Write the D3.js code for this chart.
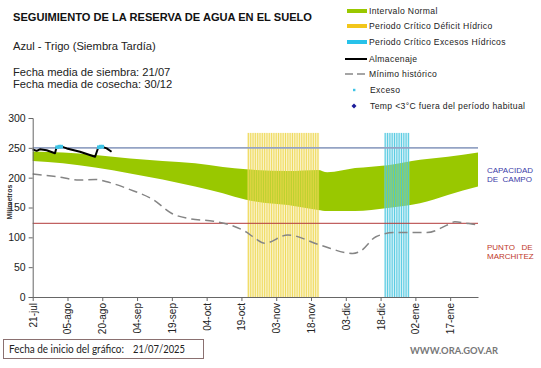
<!DOCTYPE html>
<html><head><meta charset="utf-8">
<script src="https://cdn.jsdelivr.net/npm/d3@7"></script>
<style>
body{margin:0;background:#fff;}
svg{display:block;font-family:"Liberation Sans",Arial,sans-serif;}
</style></head>
<body><svg id="c" width="541" height="368"></svg>
<script>
// ---- data (day offsets from 21-jul-2025) ----
const tickDays = [0,15,30,45,60,75,90,105,120,135,150,165,180];
const tickLabels = ["21-jul","05-ago","20-ago","04-sep","19-sep","04-oct","19-oct","03-nov","18-nov","03-dic","18-dic","02-ene","17-ene"];
const yTicks = [0,50,100,150,200,250,300];

const normDays = [0,13,27,42,56,70,82,92,96,110,123,127,139,153,167,179,192];
const normHigh = [244,242,238,232,228,224,218,214,213,211,213,209,216,221,230,235,242];
const normLow  = [228,224,217,207,197,185,174,163,160,154,146,144,144,149,157,171,185];

const minDays = [0,10,20,27,32,42,52,60,68,78,85,92,96,100,110,124,138,141,148,156,170,179,182,188,192];
const minVals = [206,202,196,197,193,180,163,140,131,127,121,109,98,90,104,87,73,76,101,108,108,121,126,123,121];

const almDays = [0,1.7,3.1,6,9.6,10.3,12.5,14.7,20.4,26.9,28.3,29.7,31.9,34];
const almVals = [247.5,245,247.5,246,241,251,252,249,243.5,235,251,252,249,243.5];

const excesoDays = [10.5,11.5,12.3,28.5,29.3,30];
const excesoVals = [251,252,252,251,252,252];

const deficitDays = d3.range(93,124);   // Periodo crítico déficit hídrico (daily bars)
const excesosDays = d3.range(152,163);  // Periodo crítico excesos hídricos
const periodTop = 275;

const capCampo = 250;
const puntoMarch = 123.5;
const xEnd = 192;

// ---- layout ----
const svg = d3.select("#c");
const x = d3.scaleLinear().domain([0,xEnd]).range([32.7,478]);
const y = d3.scaleLinear().domain([0,300]).range([297,118]);

// green band
svg.append("path")
  .datum(normDays.map((d,i)=>({d,lo:normLow[i],hi:normHigh[i]})))
  .attr("fill","#99c800")
  .attr("d", d3.area().curve(d3.curveMonotoneX).x(p=>x(p.d)).y0(p=>y(p.lo)).y1(p=>y(p.hi)));

// period bars
function period(days, bg, line){
  const g = svg.append("g");
  days.forEach(d=>{
    g.append("rect").attr("x",x(d-0.5)).attr("width",x(1)-x(0)).attr("y",y(periodTop))
      .attr("height",y(0)-y(periodTop)).attr("fill",bg).attr("opacity",0.45);
    g.append("rect").attr("x",x(d)-0.5).attr("width",1).attr("y",y(periodTop))
      .attr("height",y(0)-y(periodTop)).attr("fill",line).attr("opacity",0.8);
  });
}
period(deficitDays,"#f3e27a","#ecd545");
period(excesosDays,"#8fdcec","#3fc3dd");

// reference lines
svg.append("line").attr("x1",x(0)).attr("x2",x(xEnd)).attr("y1",y(capCampo)).attr("y2",y(capCampo))
  .attr("stroke","#94a3c4").attr("stroke-width",1.6);
svg.append("line").attr("x1",x(0)).attr("x2",x(xEnd)).attr("y1",y(puntoMarch)).attr("y2",y(puntoMarch))
  .attr("stroke","#b23a3a").attr("stroke-width",1);

// minimum dashed
svg.append("path").datum(minDays.map((d,i)=>[d,minVals[i]]))
  .attr("fill","none").attr("stroke","#858585").attr("stroke-width",1.5).attr("stroke-dasharray","9,5")
  .attr("d", d3.line().curve(d3.curveMonotoneX).x(p=>x(p[0])).y(p=>y(p[1])));

// almacenaje
svg.append("path").datum(almDays.map((d,i)=>[d,almVals[i]]))
  .attr("fill","none").attr("stroke","#000").attr("stroke-width",2).attr("stroke-linejoin","round")
  .attr("d", d3.line().x(p=>x(p[0])).y(p=>y(p[1])));

// exceso points
svg.append("g").selectAll("rect").data(excesoDays.map((d,i)=>[d,excesoVals[i]])).join("rect")
  .attr("x",p=>x(p[0])-1.8).attr("y",p=>y(p[1])-1.8).attr("width",3.6).attr("height",3.6).attr("fill","#3ec4e6");

// axes
const yAxis = svg.append("g").attr("transform",`translate(${x(0)},0)`)
  .call(d3.axisLeft(y).tickValues(yTicks).tickSize(4).tickPadding(3));
yAxis.select(".domain").attr("stroke","#666");
yAxis.selectAll(".tick line").attr("stroke","#666");
yAxis.selectAll("text").attr("font-size",10.5).attr("fill","#222").attr("font-family","Liberation Sans,Arial,sans-serif");

const xAxis = svg.append("g").attr("transform",`translate(0,${y(0)})`)
  .call(d3.axisBottom(x).tickValues(tickDays).tickFormat((d,i)=>tickLabels[i]).tickSize(4).tickSizeOuter(0));
xAxis.select(".domain").attr("stroke","#666");
xAxis.selectAll(".tick line").attr("stroke","#666");
xAxis.selectAll("text").attr("font-size",10).attr("fill","#222").attr("font-family","Liberation Sans,Arial,sans-serif")
  .attr("transform","rotate(-90)").attr("text-anchor","end").attr("x",-6).attr("y",0).attr("dy","0.35em");

svg.append("text").attr("transform","translate(12,202) rotate(-90)").attr("text-anchor","middle")
  .attr("font-size",7).attr("font-weight","bold").attr("fill","#333").text("Milímetros");

// right labels
const rl = [["CAPACIDAD",173,"#3c3ca8"],["DE  CAMPO",182,"#3c3ca8"],["PUNTO   DE",249.5,"#c0392b"],["MARCHITEZ",258.5,"#c0392b"]];
rl.forEach(r=>svg.append("text").attr("x",487).attr("y",r[1]).attr("font-size",8).attr("fill",r[2]).style("white-space","pre").text(r[0]));

// titles
svg.append("text").attr("x",13).attr("y",21).attr("font-size",11.5).attr("font-weight","bold").attr("fill","#111")
  .attr("textLength",299).attr("lengthAdjust","spacingAndGlyphs").text("SEGUIMIENTO DE LA RESERVA DE AGUA  EN EL SUELO");
svg.append("text").attr("x",13).attr("y",50).attr("font-size",11.2).attr("fill","#222").text("Azul - Trigo (Siembra Tardía)");
svg.append("text").attr("x",13).attr("y",76).attr("font-size",11.2).attr("fill","#222").text("Fecha media de siembra: 21/07");
svg.append("text").attr("x",13).attr("y",88).attr("font-size",11.2).attr("fill","#222").text("Fecha media de cosecha: 30/12");

// legend
const lg = svg.append("g").attr("font-size",8.6).attr("fill","#222").attr("letter-spacing",0.35);
const lx = 347, lw = 20, tx = 369;
const legendItems = ["Intervalo Normal","Periodo Crítico Déficit Hídrico","Periodo Crítico Excesos Hídricos","Almacenaje","Mínimo histórico","Exceso","Temp <3°C fuera del período habitual"];
const legendY = [11,26,42,59,74,90,106];
lg.append("rect").attr("x",lx).attr("y",legendY[0]-2).attr("width",lw).attr("height",4).attr("fill","#99c800");
lg.append("rect").attr("x",lx).attr("y",legendY[1]-2).attr("width",lw).attr("height",4).attr("fill","#f2c61a");
lg.append("rect").attr("x",lx).attr("y",legendY[2]-2).attr("width",lw).attr("height",4).attr("fill","#27c2ea");
lg.append("line").attr("x1",lx-2).attr("x2",lx+lw).attr("y1",legendY[3]).attr("y2",legendY[3]).attr("stroke","#000").attr("stroke-width",2);
lg.append("line").attr("x1",lx-2).attr("x2",lx+lw).attr("y1",legendY[4]).attr("y2",legendY[4]).attr("stroke","#888").attr("stroke-width",1.5).attr("stroke-dasharray","8,4");
lg.append("rect").attr("x",353).attr("y",legendY[5]-1.2).attr("width",2.4).attr("height",2.4).attr("fill","#3ec4e6");
lg.append("path").attr("d",`M354,${legendY[6]-2.5}L356.5,${legendY[6]}L354,${legendY[6]+2.5}L351.5,${legendY[6]}Z`).attr("fill","#1c1c9a");
legendItems.forEach((t,i)=>lg.append("text").attr("x",i>=5?370:tx).attr("y",legendY[i]+3).text(t));

// footer
svg.append("rect").attr("x",3.5).attr("y",339.5).attr("width",200).attr("height",19).attr("fill","none").attr("stroke","#8a7070").attr("stroke-width",1);
svg.append("text").attr("x",9).attr("y",353).attr("font-family","Lato,'Open Sans',sans-serif").attr("font-size",11).attr("fill","#222")
  .attr("textLength",115).attr("lengthAdjust","spacingAndGlyphs").text("Fecha de inicio del gráfico:");
svg.append("text").attr("x",133).attr("y",353).attr("font-family","Lato,'Open Sans',sans-serif").attr("font-size",11).attr("fill","#222")
  .attr("textLength",52).attr("lengthAdjust","spacingAndGlyphs").text("21/07/2025");
svg.append("text").attr("x",410).attr("y",354).attr("font-family","Lato,'Open Sans',sans-serif").attr("font-weight","bold").attr("font-size",10).attr("fill","#777")
  .attr("textLength",88).attr("lengthAdjust","spacingAndGlyphs").text("WWW.ORA.GOV.AR");
</script></body></html>
